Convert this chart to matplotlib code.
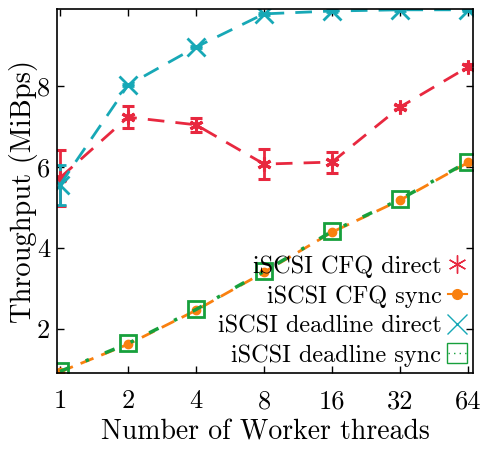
import numpy as np
import matplotlib
matplotlib.use("Agg")
import matplotlib.pyplot as plt

plt.rcParams['font.family'] = ['cmr10', 'DejaVu Serif']
plt.rcParams['mathtext.fontset'] = 'cm'
plt.rcParams['axes.formatter.use_mathtext'] = True
plt.rcParams['font.size'] = 19

# data
threads = [1, 2, 4, 8, 16, 32, 64]
cfq_direct = [5.73, 7.23, 7.04, 6.07, 6.12, 7.48, 8.47]
cfq_direct_err = [0.70, 0.28, 0.18, 0.38, 0.26, 0.06, 0.06]
cfq_sync = [0.94, 1.62, 2.46, 3.40, 4.39, 5.18, 6.11]
dl_direct = [5.56, 8.02, 8.96, 9.78, 9.85, 9.88, 9.88]
dl_direct_err = [0.49, 0.03, 0.03, 0.03, 0.03, 0.03, 0.03]
dl_sync = [0.95, 1.64, 2.48, 3.42, 4.41, 5.20, 6.13]

red = '#e8283f'
orange = '#f9800f'
cyan = '#17a8b6'
green = '#17a03c'

fig = plt.figure(figsize=(4.81, 4.5), dpi=100)
ax = fig.add_axes([0.1185, 0.171, 0.865, 0.809])

ax.errorbar(threads, cfq_direct, yerr=cfq_direct_err, color=red, ls=(0, (6, 4)),
            lw=2, marker=(6, 2, 0), ms=10, mew=2.2, capsize=4, capthick=2, elinewidth=2)
ax.plot(threads, cfq_sync, color=orange, ls=(0, (5, 3)), lw=2, marker='o', ms=6)
ax.errorbar(threads, dl_direct, yerr=dl_direct_err, color=cyan, ls=(0, (6, 4)),
            lw=2, marker='x', ms=13, mew=2, capsize=4, capthick=2, elinewidth=2)
ax.plot(threads, dl_sync, color=green, ls=(0, (3, 5, 1, 5)), lw=2.5, marker='s', ms=12,
        mfc='none', mew=2)

# legend handles
h1, = ax.plot([], [], color=red, ls='none', marker=(6, 2, 0), ms=13, mew=1)
h2, = ax.plot([], [], color=orange, ls='-', lw=1.5, marker='o', ms=7)
h3, = ax.plot([], [], color=cyan, ls='none', marker='x', ms=14, mew=1)
h4, = ax.plot([], [], color=green, ls=(0, (1, 3)), lw=1, marker='s', ms=14, mfc='none', mew=1)
ax.legend([h1, h2, h3, h4],
          ['iSCSI CFQ direct', 'iSCSI CFQ sync', 'iSCSI deadline direct', 'iSCSI deadline sync'],
          loc='lower right', bbox_to_anchor=(1.0, 0.0), markerfirst=False, frameon=False,
          handlelength=0.8, handletextpad=0.25, labelspacing=0.3, borderaxespad=0.15,
          borderpad=0.1, fontsize=17.5)

ax.set_xscale('log', base=2)
ax.set_xlim(0.97, 67.3)
ax.set_ylim(0.91, 9.9)
ax.set_xticks(threads)
ax.set_xticklabels([str(t) for t in threads])
ax.set_yticks([2, 4, 6, 8])
ax.set_yticklabels(['2', '4', '6', '8'])
ax.minorticks_off()
ax.tick_params(direction='in', length=5, width=1, top=True, right=True)
ax.tick_params(axis='x', pad=12)
ax.tick_params(axis='y', pad=5)
for s in ax.spines.values():
    s.set_linewidth(1.2)

ax.set_xlabel('Number of Worker threads', fontsize=20, labelpad=4)
ax.set_ylabel('Throughput (MiBps)', fontsize=20.5, labelpad=-1)

fig.savefig('out.png', dpi=100)
